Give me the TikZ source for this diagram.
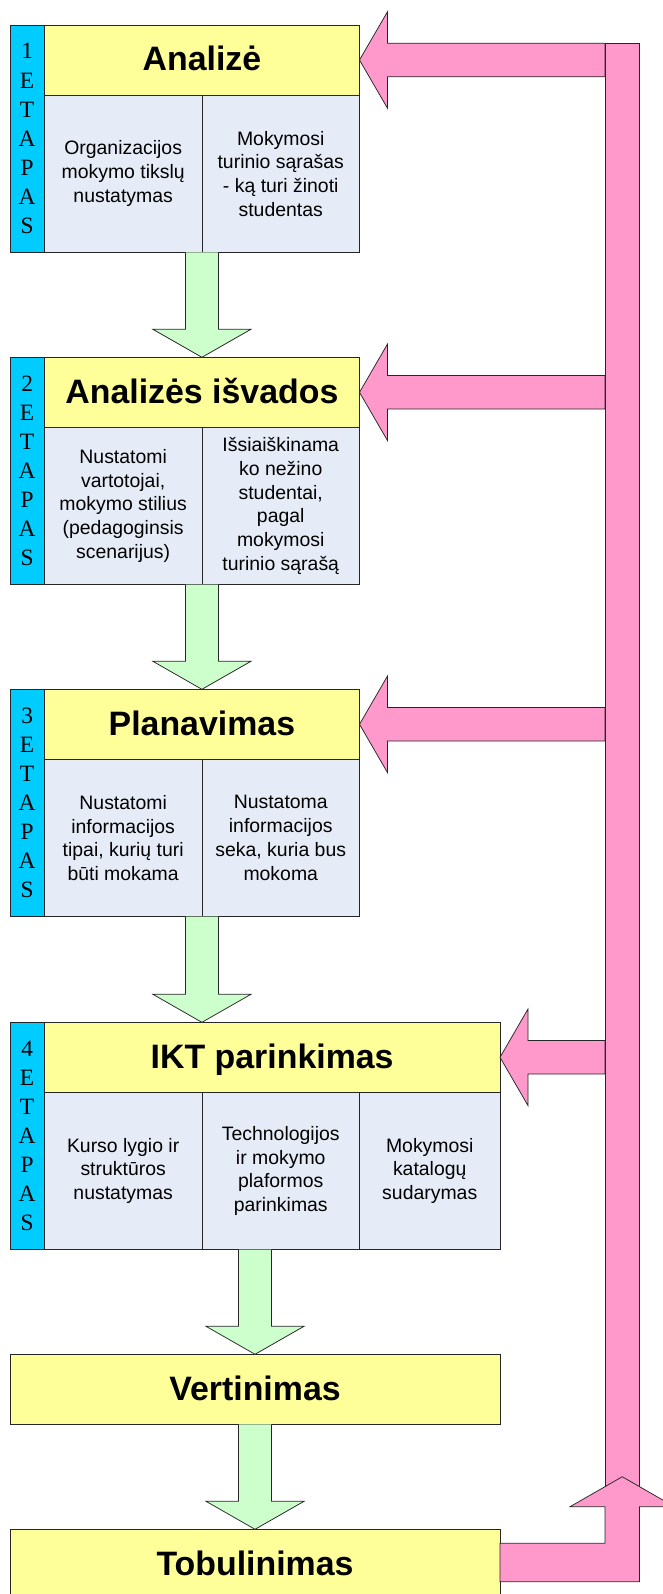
\documentclass[tikz,border=0pt]{standalone}
\usepackage{fontspec}
\usetikzlibrary{calc}
\newfontfamily\lsans{Liberation Sans}
\newfontfamily\lserif{Liberation Serif}

\definecolor{edge}{HTML}{262626}
\definecolor{bandyellow}{HTML}{FFFF99}
\definecolor{cellblue}{HTML}{E6ECF7}
\definecolor{stagecyan}{HTML}{00CCFF}
\definecolor{feedpink}{HTML}{FF99CC}
\definecolor{flowgreen}{HTML}{CCFFCC}

\tikzset{
  every node/.style={inner sep=0pt, outer sep=0pt},
  frame/.style={draw=edge, line width=0.75bp},
  stage/.style={frame, fill=stagecyan, anchor=north west, align=center,
    minimum width=34.3bp, minimum height=227.3bp,
    font=\lserif\fontsize{23.5}{29.2}\selectfont},
  band/.style={frame, fill=bandyellow, anchor=north west, minimum height=70bp,
    text height=24.5bp, text depth=3bp,
    font=\lsans\bfseries\fontsize{34}{37}\selectfont},
  cell/.style={frame, fill=cellblue, anchor=north west, align=center,
    minimum height=157.3bp, font=\lsans\fontsize{19.5}{23.8}\selectfont},
  greenshape/.style={frame, fill=flowgreen},
  pinkshape/.style={frame, fill=feedpink},
}

% block arrow going down from one box to the next
\newcommand\flowarrow[2]{%
  \path[greenshape] let \p1=(#1), \p2=(#2) in
    (\x1-16.5bp,\y1) -- (\x1-16.5bp,\y2+28bp) -- (\x1-49bp,\y2+28bp) --
    (\x1,\y2) -- (\x1+49bp,\y2+28bp) -- (\x1+16.5bp,\y2+28bp) -- (\x1+16.5bp,\y1);}
% feedback arrow from the return bar back to a stage title
\newcommand\feedarrow[2]{%
  \path[pinkshape] let \p1=(#1.east), \p2=(#2.west) in
    (\p1) -- (\x1+28bp,\y1+48.3bp) -- (\x1+28bp,\y1+16.8bp) -- (\x2,\y1+16.8bp) --
    (\x2,\y1-16.8bp) -- (\x1+28bp,\y1-16.8bp) -- (\x1+28bp,\y1-48.3bp) -- cycle;}

\begin{document}
\begin{tikzpicture}[x=1bp, y=-1bp]
\useasboundingbox (0,0) rectangle (663,1594);

% stage 1
\node[stage] (s1) at (10,25) {1\\E\\T\\A\\P\\A\\S};
\node[band, minimum width=315.2bp] (t1) at (44.3,25) {Analizė};
\node[cell, minimum width=157.7bp] (c1a) at (44.3,95) {Organizacijos\\mokymo tikslų\\nustatymas};
\node[cell, minimum width=157.5bp] (c1b) at (202,95) {Mokymosi\\turinio sąrašas\\- ką turi žinoti\\studentas};

% stage 2
\node[stage] (s2) at (10,357.3) {2\\E\\T\\A\\P\\A\\S};
\node[band, minimum width=315.2bp] (t2) at (44.3,357.3) {Analizės išvados};
\node[cell, minimum width=157.7bp] (c2a) at (44.3,427.3) {Nustatomi\\vartotojai,\\mokymo stilius\\(pedagoginsis\\scenarijus)};
\node[cell, minimum width=157.5bp] (c2b) at (202,427.3) {Išsiaiškinama\\ko nežino\\studentai,\\pagal\\mokymosi\\turinio sąrašą};

% stage 3
\node[stage] (s3) at (10,689.3) {3\\E\\T\\A\\P\\A\\S};
\node[band, minimum width=315.2bp] (t3) at (44.3,689.3) {Planavimas};
\node[cell, minimum width=157.7bp] (c3a) at (44.3,759.3) {Nustatomi\\informacijos\\tipai, kurių turi\\būti mokama};
\node[cell, minimum width=157.5bp] (c3b) at (202,759.3) {Nustatoma\\informacijos\\seka, kuria bus\\mokoma};

% stage 4
\node[stage] (s4) at (10,1022.3) {4\\E\\T\\A\\P\\A\\S};
\node[band, minimum width=455.7bp] (t4) at (44.3,1022.3) {IKT parinkimas};
\node[cell, minimum width=157.7bp] (c4a) at (44.3,1092.3) {Kurso lygio ir\\struktūros\\nustatymas};
\node[cell, minimum width=157.5bp] (c4b) at (202,1092.3) {Technologijos\\ir mokymo\\plaformos\\parinkimas};
\node[cell, minimum width=140.5bp] (c4c) at (359.5,1092.3) {Mokymosi\\katalogų\\sudarymas};

% evaluation and improvement
\node[band, minimum width=490bp] (ver) at (10,1354.3) {Vertinimas};
\node[band, minimum width=490bp] (tob) at (10,1529.3) {Tobulinimas};

% forward flow
\flowarrow{t1 |- c1a.south}{t2.north}
\flowarrow{t2 |- c2a.south}{t3.north}
\flowarrow{t3 |- c3a.south}{t4.north}
\flowarrow{ver |- c4a.south}{ver.north}
\flowarrow{ver.south}{tob.north}

% feedback loop
\coordinate (bar) at (605,43.2);
\path (bar) ++(34.5,1466.8) coordinate (barend);
\feedarrow{t1}{bar}
\feedarrow{t2}{bar}
\feedarrow{t3}{bar}
\feedarrow{t4}{bar}
\node[pinkshape, anchor=north west, minimum width=34.5bp, minimum height=1466.8bp] (barbox) at (bar) {};
\path[pinkshape] let \p1=(tob.east), \p2=(barbox.south west), \p3=(barbox.south east) in
  (\x1,-1543.3bp) -- (\x2,-1543.3bp) -- (\x2,-1506.7bp) -- (\x2-35bp,-1506.7bp) --
  ({(\x2+\x3)/2},-1476.7bp) -- (\x3+35bp,-1506.7bp) -- (\x3,-1506.7bp) --
  (\x3,-1581.7bp) -- (\x1,-1581.7bp) -- cycle;
\end{tikzpicture}
\end{document}
